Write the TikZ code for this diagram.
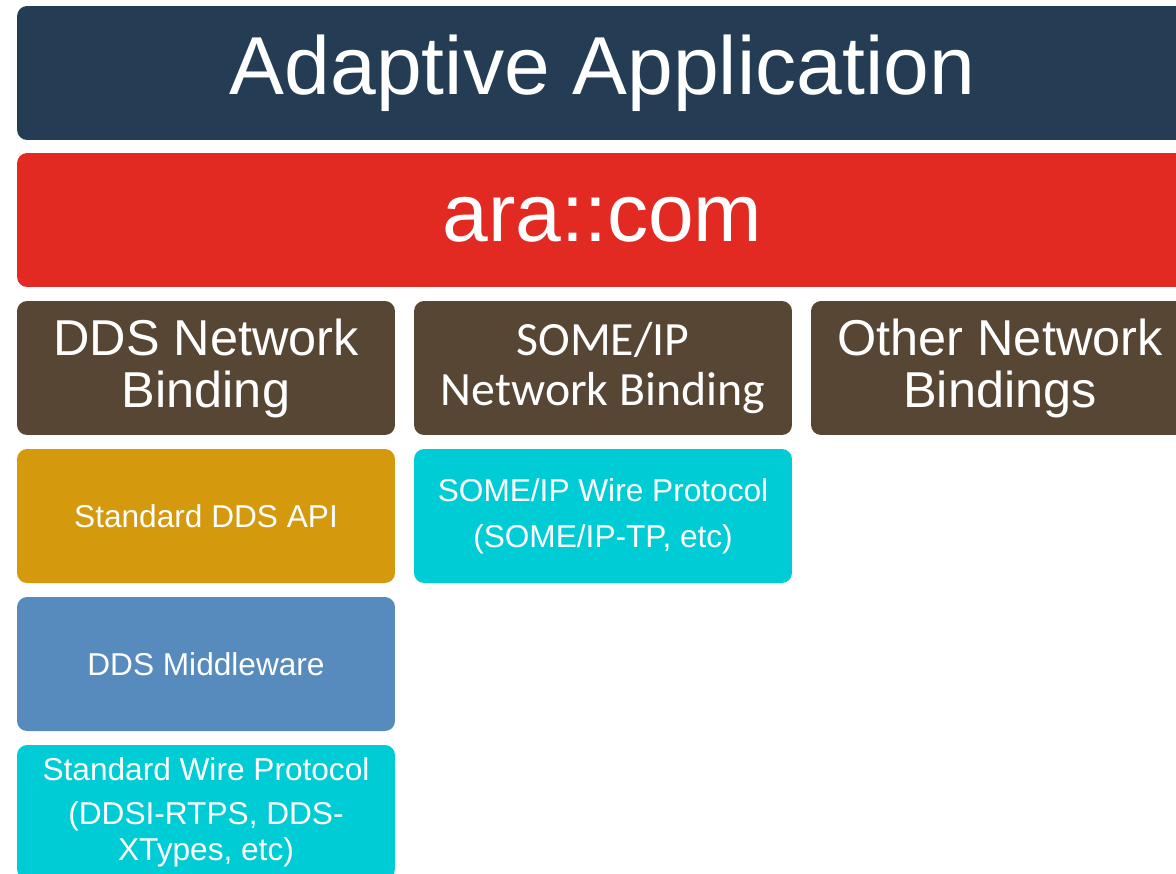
\documentclass[tikz,border=0pt]{standalone}
\usepackage{fontspec}
\setmainfont{Liberation Sans}
\newfontfamily\calibri{Carlito}
\usepackage{tikz}
\definecolor{appnavy}{HTML}{243D55}
\definecolor{arared}{HTML}{E32A22}
\definecolor{bindbrown}{HTML}{574633}
\definecolor{apigold}{HTML}{D4990D}
\definecolor{wirecyan}{HTML}{00CCD6}
\definecolor{mwblue}{HTML}{588BBD}
\tikzstyle{layer} = [draw=none, rounded corners=5.7pt, text=white, align=center, inner sep=0pt, minimum height=2.68cm]
\tikzstyle{bar} = [layer, minimum width=23.42cm, font=\fontsize{46.8}{50}\selectfont]
\tikzstyle{binding} = [layer, minimum width=7.56cm, fill=bindbrown, font=\fontsize{28.7}{29.6}\selectfont]
\tikzstyle{block} = [layer, minimum width=7.56cm, font=\fontsize{18}{20.5}\selectfont]

\begin{document}
\begin{tikzpicture}[x=0.02cm,y=-0.02cm]
	\useasboundingbox (0,0) rectangle (1176,873);
	\clip (0,0) rectangle (1176,873);
	\node[bar, fill=appnavy] (app) at (602.5,73) {Adaptive Application};
	\node[bar, fill=arared] (aracom) at (602.5,220) {ara::com};
	% network bindings
	\foreach \Xc/\Nombre/\Texto in 
	{206/dds/{DDS Network\\Binding}, 1000/other/{Other Network\\Bindings}}
	{
		\node[binding] (\Nombre) at (\Xc,368) {\Texto};
	}
	\node[binding, font=\calibri\fontsize{27.2}{28}\selectfont] (someip) at (603,368) {SOME/IP\\Network Binding};
	% pila DDS
	\node[block, fill=apigold] (ddsapi) at (206,516) {Standard DDS API};
	\node[block, fill=mwblue] (ddsmw) at (206,664) {DDS Middleware};
	\node[block, fill=wirecyan] (ddswire) at (206,812) {Standard Wire Protocol\\[4.5pt](DDSI-RTPS, DDS-\\XTypes, etc)};
	\node[block, fill=wirecyan, font=\fontsize{18}{26}\selectfont] (someipwire) at (603,516) {SOME/IP Wire Protocol\\(SOME/IP-TP, etc)};
\end{tikzpicture}
\end{document}
